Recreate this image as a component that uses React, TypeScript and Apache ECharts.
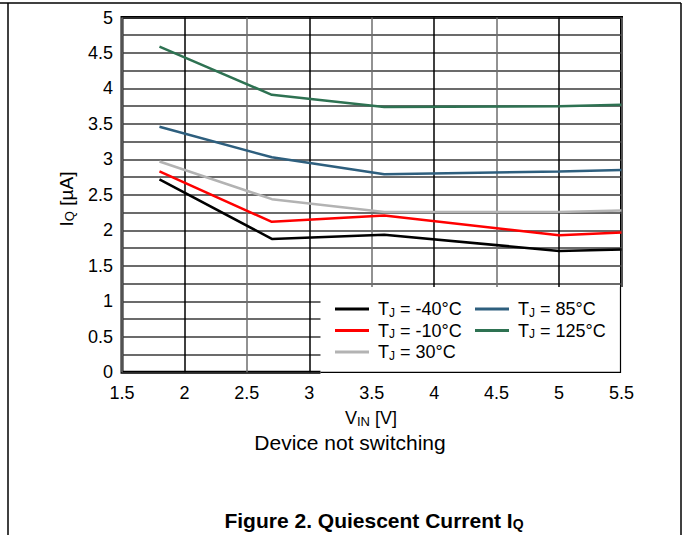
import React, { useEffect, useRef } from "react";
import * as echarts from "echarts";

const vin = [1.8, 2.7, 3.6, 5.0, 5.5];
const tjM40 = [2.72, 1.88, 1.94, 1.71, 1.73];
const tjM10 = [2.83, 2.12, 2.21, 1.93, 1.97];
const tj30 = [2.97, 2.44, 2.26, 2.26, 2.28];
const tj85 = [3.46, 3.03, 2.79, 2.83, 2.85];
const tj125 = [4.59, 3.91, 3.74, 3.75, 3.77];

const seriesNames = ["TJ = -40°C", "TJ = -10°C", "TJ = 30°C", "TJ = 85°C", "TJ = 125°C"];
const seriesValues = [tjM40, tjM10, tj30, tj85, tj125];
const seriesColors = ["#000000", "#ff0000", "#b3b3b3", "#2e5f7e", "#2e7252"];

const FONT = "'Liberation Sans', Arial, sans-serif";

export default function App() {
  const ref = useRef<HTMLDivElement>(null);
  useEffect(() => {
    if (!ref.current) return;
    const chart = echarts.init(ref.current, undefined, { renderer: "svg" });
    const subRich = {
      sub: { fontSize: 12, fontFamily: FONT, color: "#000", padding: [7, 0, 0, 0] },
    };
    const legendCommon = {
      orient: "vertical" as const,
      icon: "rect",
      itemWidth: 34,
      itemHeight: 3,
      itemGap: 3,
      padding: 0,
      selectedMode: false,
      textStyle: {
        fontFamily: FONT,
        fontSize: 18,
        color: "#000",
        lineHeight: 18,
        padding: [0, 0, 0, 4],
        rich: subRich,
      },
      formatter: (n: string) => n.replace("TJ", "T{sub|J}"),
    };
    chart.setOption({
      animation: false,
      backgroundColor: "#fff",
      grid: {
        left: 122,
        right: 61.5,
        top: 17.5,
        bottom: 162.7,
        show: true,
        borderColor: "#000",
        borderWidth: 3,
        backgroundColor: "transparent",
      },
      xAxis: {
        type: "value",
        min: 1.5,
        max: 5.5,
        interval: 0.5,
        axisLine: { show: false },
        axisTick: { show: false },
        axisLabel: { fontFamily: FONT, fontSize: 18, color: "#000", margin: 12 },
        splitLine: { show: true, lineStyle: { color: ["#6e6e6e", "#000"], width: 1.5 } },
      },
      yAxis: {
        type: "value",
        min: 0,
        max: 5,
        interval: 0.5,
        axisLine: { show: false },
        axisTick: { show: false },
        axisLabel: { fontFamily: FONT, fontSize: 18, color: "#000", margin: 9 },
        splitLine: { show: true, lineStyle: { color: "#3a3a3a", width: 1.5 } },
        minorTick: { show: false, splitNumber: 2 },
        minorSplitLine: { show: true, lineStyle: { color: "#3a3a3a", width: 1.5 } },
      },
      legend: [
        { ...legendCommon, left: 335, top: 300, data: seriesNames.slice(0, 3) },
        { ...legendCommon, left: 475, top: 300, data: seriesNames.slice(3) },
      ],
      series: seriesNames.map((name, i) => ({
        name,
        type: "line",
        data: vin.map((x, j) => [x, seriesValues[i][j]]),
        symbol: "none",
        showSymbol: false,
        lineStyle: { color: seriesColors[i], width: 2.5 },
        itemStyle: { color: seriesColors[i] },
        z: 2,
      })),
      graphic: [
        { type: "line", z: 5, shape: { x1: 0, y1: 3, x2: 681, y2: 3 }, style: { stroke: "#000", lineWidth: 1.5 } },
        { type: "line", z: 5, shape: { x1: 8, y1: 3, x2: 8, y2: 540 }, style: { stroke: "#000", lineWidth: 1.5 } },
        { type: "line", z: 5, shape: { x1: 681, y1: 3, x2: 681, y2: 540 }, style: { stroke: "#000", lineWidth: 1.5 } },
        { type: "rect", z: 3, shape: { x: 320.5, y: 287, width: 303.5, height: 87.5 }, style: { fill: "#fff" } },
        { type: "polyline", z: 3, shape: { points: [[320.5, 372.3], [620.5, 372.3], [620.5, 287]] }, style: { stroke: "#000", lineWidth: 1.2, fill: "none" } },
        {
          type: "text",
          z: 5,
          x: 66,
          y: 199,
          rotation: Math.PI / 2,
          style: {
            text: "I{sub|Q} [µA]",
            fontFamily: FONT,
            fontSize: 19,
            fill: "#000",
            align: "center",
            verticalAlign: "middle",
            rich: { sub: { fontSize: 13, fontFamily: FONT, color: "#000", padding: [7, 0, 0, 0] } },
          },
        },
        {
          type: "text",
          z: 5,
          x: 371,
          y: 418,
          style: {
            text: "V{sub|IN} [V]",
            fontFamily: FONT,
            fontSize: 18,
            fill: "#000",
            align: "center",
            verticalAlign: "middle",
            rich: { sub: { fontSize: 13, fontFamily: FONT, color: "#000", padding: [6, 0, 0, 0] } },
          },
        },
        {
          type: "text",
          z: 5,
          x: 350,
          y: 442,
          style: {
            text: "Device not switching",
            fontFamily: FONT,
            fontSize: 21,
            fill: "#000",
            align: "center",
            verticalAlign: "middle",
          },
        },
        {
          type: "text",
          z: 5,
          x: 374,
          y: 520,
          style: {
            text: "Figure 2. Quiescent Current I{sub|Q}",
            fontFamily: FONT,
            fontSize: 21,
            fontWeight: "bold",
            fill: "#000",
            align: "center",
            verticalAlign: "middle",
            rich: { sub: { fontSize: 14, fontWeight: "bold", fontFamily: FONT, color: "#000", padding: [8, 0, 0, 0] } },
          },
        },
      ],
    });
    return () => chart.dispose();
  }, []);
  return (
    <div
      ref={ref}
      style={{ position: "absolute", left: 0, top: 0, width: 683, height: 535, background: "#fff" }}
    />
  );
}
